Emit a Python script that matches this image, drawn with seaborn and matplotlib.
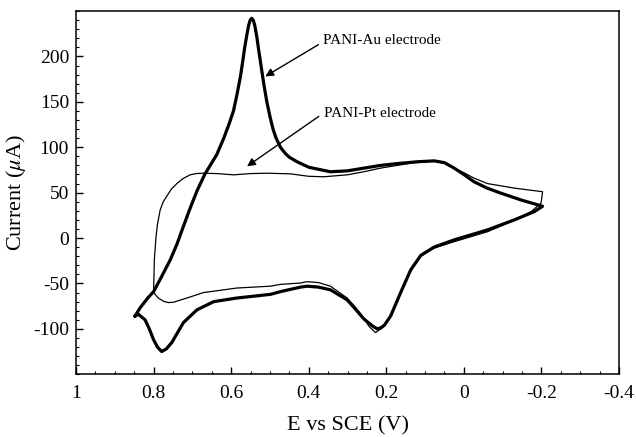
import numpy as np
import pandas as pd
import matplotlib
matplotlib.use("Agg")
import matplotlib.pyplot as plt
import seaborn as sns
from matplotlib.ticker import MultipleLocator, FuncFormatter

# ---- data ----
au_E = [0.848, 0.835, 0.815, 0.800, 0.780, 0.757, 0.740, 0.723, 0.710, 0.701, 0.688,
        0.677, 0.667, 0.654, 0.637, 0.619, 0.605, 0.594, 0.585, 0.576, 0.570, 0.565,
        0.559, 0.555, 0.551, 0.547, 0.543, 0.539, 0.534, 0.529, 0.523, 0.516, 0.508,
        0.499, 0.492, 0.485, 0.473, 0.460, 0.450, 0.430, 0.400, 0.378, 0.344, 0.300,
        0.258, 0.215, 0.172, 0.120, 0.077, 0.050, 0.025, 0.000, -0.026, -0.060,
        -0.095, -0.147, -0.203,
        -0.181, -0.130, -0.061, 0.025, 0.077, 0.111, 0.137, 0.163, 0.189, 0.205,
        0.215, 0.223, 0.235, 0.258, 0.280, 0.301, 0.344, 0.375, 0.404, 0.421, 0.473,
        0.499, 0.585, 0.645, 0.688, 0.723, 0.753, 0.767, 0.779, 0.790, 0.800, 0.811,
        0.822, 0.839, 0.848]
au_I = [-86, -77, -66, -59, -43, -24, -7, 13, 28, 38, 52,
        62, 71, 80, 92, 110, 126, 140, 158, 178, 195, 210,
        225, 234, 240, 242, 240, 234, 222, 207, 190, 170, 150,
        132, 120, 111, 100, 93, 89, 84, 78, 76, 73, 74,
        77, 80, 82, 84, 85, 83, 77, 70, 62, 55,
        49.5, 42, 35,
        29, 20, 9, -2, -10, -19, -35, -60, -86, -96,
        -99, -100, -97, -89, -78, -68, -57, -54, -53, -54, -59,
        -62, -66, -70, -79, -93, -115, -122, -125, -120, -112, -100,
        -90, -84, -86]

pt_E = [0.800, 0.798, 0.794, 0.790, 0.783, 0.775, 0.766, 0.754, 0.740, 0.724, 0.706,
        0.690, 0.671, 0.636, 0.594, 0.550, 0.507, 0.447, 0.400, 0.361, 0.301, 0.258,
        0.215, 0.172, 0.129, 0.068, 0.050, 0.025, 0.000, -0.026, -0.061, -0.130,
        -0.203, -0.199, -0.173, -0.121, -0.061, 0.025, 0.077, 0.111, 0.137, 0.163,
        0.189, 0.210, 0.228, 0.245, 0.258, 0.280, 0.301, 0.344, 0.375, 0.404, 0.421,
        0.473, 0.499, 0.585, 0.671, 0.714, 0.749, 0.762, 0.774, 0.788, 0.796, 0.800]
pt_I = [-59, -24, 0, 15, 31, 40, 46, 54, 60, 65.5, 69.6,
        71, 71.4, 71, 69.6, 71, 71.4, 70.7, 68, 67.5, 69.6, 73,
        77, 80, 83, 85, 83, 77, 72, 66, 60, 55,
        51, 38.5, 29, 18, 7, -4, -11, -20, -36, -61,
        -86, -99, -104, -97, -88, -76, -66, -53, -49, -48, -49.5,
        -51, -53, -55, -60, -66, -70.7, -71, -69.7, -66, -62, -59]

electrodes = ["PANI-Au", "PANI-Pt"]
x_ticks = [1, 0.8, 0.6, 0.4, 0.2, 0, -0.2, -0.4]
y_ticks = [-100, -50, 0, 50, 100, 150, 200]

df = pd.concat([
    pd.DataFrame({"E": au_E, "I": au_I, "electrode": electrodes[0]}),
    pd.DataFrame({"E": pt_E, "I": pt_I, "electrode": electrodes[1]}),
], ignore_index=True)

sns.set_theme(style="ticks")
plt.rcParams["font.family"] = ["Liberation Serif", "DejaVu Serif"]
plt.rcParams["mathtext.fontset"] = "stix"
plt.rcParams["axes.unicode_minus"] = False
plt.rcParams["lines.solid_joinstyle"] = "round"
plt.rcParams["lines.solid_capstyle"] = "round"

fig = plt.figure(figsize=(6.36, 4.37), dpi=100)
ax = fig.add_axes([0.1195, 0.1435, 0.9733 - 0.1195, 0.9748 - 0.1435])

sns.lineplot(data=df, x="E", y="I", hue="electrode", size="electrode",
             palette={"PANI-Au": "black", "PANI-Pt": "black"},
             sizes={"PANI-Au": 2.3, "PANI-Pt": 0.9},
             sort=False, estimator=None, units="electrode", legend=False, ax=ax)

ax.set_xlim(1, -0.4)
ax.set_ylim(-150, 250)
ax.xaxis.set_minor_locator(MultipleLocator(0.05))
ax.yaxis.set_minor_locator(MultipleLocator(10))
ax.set_xticks(x_ticks)
ax.set_yticks(y_ticks)
ax.xaxis.set_major_formatter(FuncFormatter(lambda v, p: "%g" % round(v, 2)))
ax.tick_params(which="major", direction="in", length=5, width=1.0, labelsize=14,
               top=False, right=False, colors="black")
ax.tick_params(which="minor", direction="in", length=2.5, width=0.8,
               top=False, right=False, colors="black")
ax.tick_params(axis="x", which="major", pad=8)
ax.tick_params(axis="y", which="major", pad=5)
for s in ax.spines.values():
    s.set_linewidth(1.1)
    s.set_color("black")

ax.set_xlabel("E vs SCE (V)", fontsize=16, labelpad=10, color="black")
ax.set_ylabel("Current ($\\mu$A)", fontsize=16, labelpad=4, color="black")

arrow = dict(arrowstyle="-|>", color="black", lw=1.0, mutation_scale=12,
             shrinkA=0, shrinkB=0)
ax.annotate("", xy=(0.512, 178), xytext=(0.375, 213), arrowprops=arrow)
ax.annotate("", xy=(0.559, 79), xytext=(0.374, 134), arrowprops=arrow)
ax.text(0.364, 218, "PANI-Au electrode", fontsize=11, ha="left", va="center", color="black")
ax.text(0.361, 137.5, "PANI-Pt electrode", fontsize=11, ha="left", va="center", color="black")

fig.savefig("out.png", dpi=100)
